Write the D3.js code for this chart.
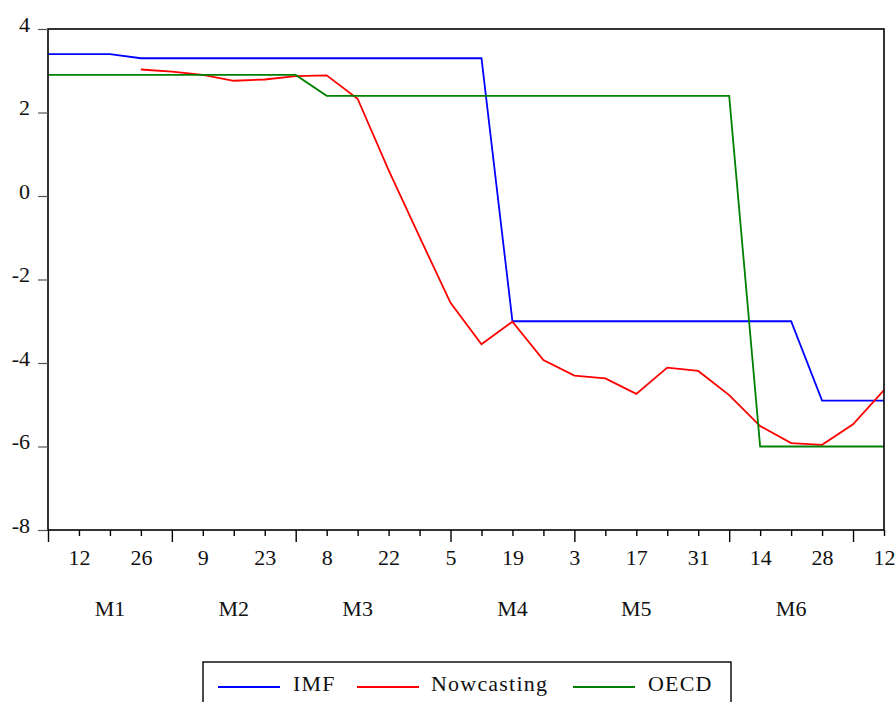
<!DOCTYPE html>
<html>
<head>
<meta charset="utf-8">
<script src="https://cdn.jsdelivr.net/npm/d3@7"></script>
<style>
  html, body { margin: 0; padding: 0; background: #fff; }
  svg { display: block; }
</style>
</head>
<body>
<svg id="chart" width="896" height="702"></svg>
<script>
// ---- data ----
const dayLabels = ["5","12","19","26","2","9","16","23","1","8","15","22","29","5","12","19","26","3","10","17","24","31","7","14","21","28","5","12"];
const monthLabels = ["M1","M2","M3","M4","M5","M6"];
const monthStart = [0, 4, 8, 13, 17, 22, 26];
const yTicks = [-8, -6, -4, -2, 0, 2, 4];

const imf = [3.4,3.4,3.4,3.3,3.3,3.3,3.3,3.3,3.3,3.3,3.3,3.3,3.3,3.3,3.3,-3.0,-3.0,-3.0,-3.0,-3.0,-3.0,-3.0,-3.0,-3.0,-3.0,-4.9,-4.9,-4.9];
const nowcasting = [null,null,null,3.03,2.98,2.90,2.76,2.79,2.87,2.89,2.33,0.62,-0.98,-2.56,-3.55,-3.01,-3.93,-4.30,-4.37,-4.74,-4.11,-4.19,-4.77,-5.51,-5.92,-5.96,-5.47,-4.65];
const oecd = [2.9,2.9,2.9,2.9,2.9,2.9,2.9,2.9,2.9,2.4,2.4,2.4,2.4,2.4,2.4,2.4,2.4,2.4,2.4,2.4,2.4,2.4,2.4,-6.0,-6.0,-6.0,-6.0,-6.0];

const seriesNames = ["IMF", "Nowcasting", "OECD"];
const seriesColors = ["#0000ff", "#ff0000", "#008000"];
const seriesData = [imf, nowcasting, oecd];

// ---- layout ----
const L = 48, R = 884, T = 29, B = 530;
const FONT = "'Liberation Serif', 'Times New Roman', serif";

const svg = d3.select("#chart");
const x = d3.scaleLinear().domain([0, dayLabels.length - 1]).range([L, R]);
const y = d3.scaleLinear().domain([-8, 4]).range([B, T]);

// lines
const line = d3.line()
  .defined(d => d != null)
  .x((d, i) => x(i))
  .y(d => y(d));

seriesData.forEach((s, k) => {
  svg.append("path")
    .datum(s)
    .attr("fill", "none")
    .attr("stroke", seriesColors[k])
    .attr("stroke-width", 1.8)
    .attr("stroke-linejoin", "miter")
    .attr("d", line);
});

// frame
svg.append("rect")
  .attr("x", L).attr("y", T)
  .attr("width", R - L).attr("height", B - T)
  .attr("fill", "none")
  .attr("stroke", "#000")
  .attr("stroke-width", 1.6);

// y axis
const yAxis = d3.axisLeft(y).tickValues(yTicks).tickSize(10).tickPadding(8).tickFormat(d => String(d));
const gy = svg.append("g").attr("transform", `translate(${L},0)`).call(yAxis);
gy.select(".domain").remove();
gy.selectAll(".tick line").attr("stroke", "#555").attr("stroke-width", 1.2);
gy.selectAll(".tick text")
  .attr("font-family", FONT).attr("font-size", 22).attr("fill", "#111")
  .attr("dy", "0.32em").attr("y", -5);

// x axis
const xAxis = d3.axisBottom(x)
  .tickValues(d3.range(dayLabels.length))
  .tickSize(6)
  .tickPadding(14)
  .tickFormat(i => (i % 2 === 1 ? dayLabels[i] : ""));
const gx = svg.append("g").attr("transform", `translate(0,${B})`).call(xAxis);
gx.select(".domain").remove();
gx.selectAll(".tick line")
  .attr("stroke", "#000").attr("stroke-width", 1.4)
  .attr("y2", i => (monthStart.includes(i) ? 12 : 6));
gx.selectAll(".tick text")
  .attr("font-family", FONT).attr("font-size", 22).attr("fill", "#111")
  .attr("y", 19).attr("dy", "0.71em");

// month labels
svg.append("g").selectAll("text")
  .data(monthLabels)
  .join("text")
  .attr("x", (d, k) => x(monthStart[k] + 2))
  .attr("y", 616)
  .attr("text-anchor", "middle")
  .attr("font-family", FONT).attr("font-size", 22).attr("fill", "#111")
  .text(d => d);

// legend
const lg = svg.append("g");
lg.append("rect")
  .attr("x", 203).attr("y", 662)
  .attr("width", 528).attr("height", 50)
  .attr("fill", "#fff").attr("stroke", "#000").attr("stroke-width", 1.4);
const legLineX = [218, 357, 573];
const legTextX = [293, 431, 648];
seriesNames.forEach((n, k) => {
  lg.append("line")
    .attr("x1", legLineX[k]).attr("x2", legLineX[k] + 62)
    .attr("y1", 687).attr("y2", 687)
    .attr("stroke", seriesColors[k]).attr("stroke-width", 1.8);
  lg.append("text")
    .attr("x", legTextX[k]).attr("y", 691)
    .attr("font-family", FONT).attr("font-size", 22).attr("fill", "#111")
    .attr("letter-spacing", 1.2)
    .text(n);
});
</script>
</body>
</html>
